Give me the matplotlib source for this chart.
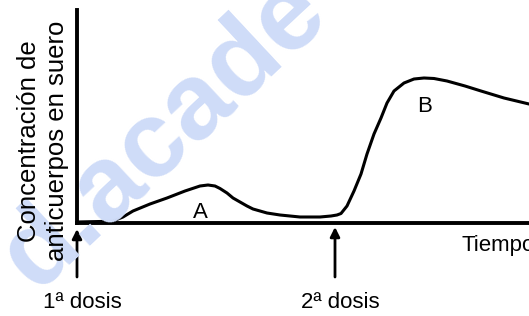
import matplotlib.pyplot as plt

# Datos (tiempo y concentración en unidades arbitrarias)
tiempo = [0, 23, 36, 46, 56, 73, 90, 108, 123, 131, 138, 143, 150, 156,
          163, 170, 176, 183, 190, 203, 223, 243, 254, 260, 264, 270, 277,
          284, 290, 297, 304, 310, 317, 327, 337, 347, 357, 370, 388, 404,
          427, 452]
concentracion = [1, 1.5, 2, 6, 12, 19, 25, 32, 37, 38, 37, 34.5, 30, 25,
                 21, 17, 14, 12, 10, 8, 6, 6, 7, 8, 9.5, 17, 32, 49, 69, 89,
                 105, 120, 132, 140, 144, 145, 144.5, 142, 137, 132, 125,
                 119]
dosis = [0, 258]
etiquetas_dosis = ["1ª dosis", "2ª dosis"]

plt.rcParams["font.family"] = ["Liberation Sans", "DejaVu Sans"]

fig = plt.figure(figsize=(5.29, 3.16), dpi=100)

# marca de agua
fig.text(36 / 529, 1 - 292 / 316, "d.acade", rotation=43, fontsize=78,
         fontweight="bold", color="#cfdcf8", ha="left", va="baseline",
         rotation_mode="anchor", zorder=0)

ax = fig.add_axes([77 / 529, 93 / 316, 452 / 529, 213 / 316])
ax.patch.set_visible(False)
ax.set_xlim(0, 452)
ax.set_ylim(0, 213)
for s in ["top", "right"]:
    ax.spines[s].set_visible(False)
for s in ["left", "bottom"]:
    ax.spines[s].set_linewidth(2.8)
ax.set_xticks([])
ax.set_yticks([])

ax.plot(tiempo, concentracion, color="black", lw=2.2, solid_capstyle="round",
        solid_joinstyle="round", clip_on=False)

for x, txt, tip in zip(dosis, etiquetas_dosis, [-6, -4]):
    ax.annotate("", xy=(x, tip), xytext=(x, -54), annotation_clip=False,
                arrowprops=dict(arrowstyle="-|>", lw=2, color="black",
                                mutation_scale=14, shrinkA=0, shrinkB=0))
    ax.text(x + 5, -79, txt, ha="center", va="center", fontsize=16,
            clip_on=False)

ax.text(123, 11, "A", ha="center", va="center", fontsize=16)
ax.text(348, 117, "B", ha="center", va="center", fontsize=16)
ax.text(385, -22, "Tiempo", ha="left", va="center", fontsize=16, clip_on=False)

fig.text(43 / 529, 1 - 141 / 316, "Concentración de\nanticuerpos en suero",
         rotation=90, ha="center", va="center", multialignment="center",
         fontsize=18.5, linespacing=1.2)

plt.savefig("out.png", dpi=100)
